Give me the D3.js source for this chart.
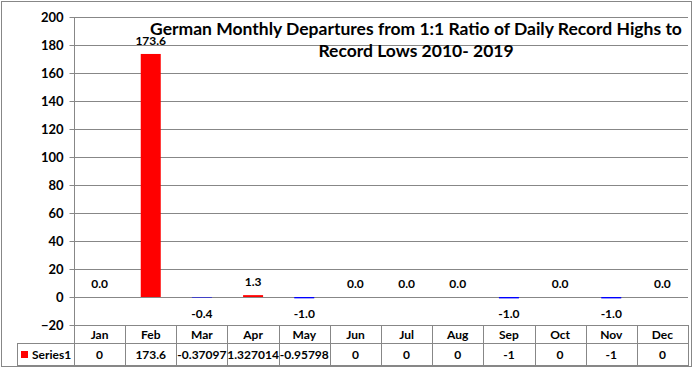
<!DOCTYPE html>
<html><head><meta charset="utf-8">
<script src="https://cdn.jsdelivr.net/npm/d3@7"></script>
<style>body{margin:0;background:#fff}svg{display:block}</style>
</head><body>
<svg id="c" width="695" height="367"></svg>
<script>
const months = ["Jan","Feb","Mar","Apr","May","Jun","Jul","Aug","Sep","Oct","Nov","Dec"];
const series1 = [0, 173.6, -0.37097, 1.327014, -0.95798, 0, 0, 0, -1, 0, -1, 0];
const seriesName = "Series1";
const yTicks = [-20, 0, 20, 40, 60, 80, 100, 120, 140, 160, 180, 200];
const titleLines = ["German Monthly Departures from 1:1 Ratio of Daily Record Highs to", "Record Lows 2010- 2019"];

const svg = d3.select("#c");
const font = "Lato, 'Open Sans', sans-serif";
const grid = "#878787";
const L = 74, R = 688, T = 17, B = 325;
const x = d3.scaleBand().domain(months).range([L, R]);
const y = d3.scaleLinear().domain([-20, 200]).range([B, T]);

// outer border
svg.append("rect").attr("x",1.5).attr("y",1.5).attr("width",690).attr("height",365)
  .attr("fill","#fff").attr("stroke",grid).attr("stroke-width",1);

// gridlines
svg.append("g").selectAll("line").data(yTicks).join("line")
  .attr("x1",L).attr("x2",R).attr("y1",d=>Math.round(y(d))+0.5).attr("y2",d=>Math.round(y(d))+0.5)
  .attr("stroke",grid).attr("stroke-width",1);

// y axis
const ya = svg.append("g").attr("transform",`translate(${L+0.5},0)`)
  .call(d3.axisLeft(y).tickValues(yTicks).tickSize(5).tickPadding(6));
ya.select(".domain").remove();
ya.selectAll("line").attr("stroke",grid).attr("transform", "translate(0,0)");
ya.selectAll(".tick").attr("transform", d=>`translate(0,${Math.round(y(d))+0.5})`);
ya.selectAll("text").attr("font-family",font).attr("font-weight","bold").attr("font-size",13).attr("fill","#000");
svg.append("line").attr("x1",L+0.5).attr("x2",L+0.5).attr("y1",T).attr("y2",366).attr("stroke",grid);

// bars
const bw = 20;
svg.append("g").selectAll("rect").data(series1).join("rect")
  .attr("x",(d,i)=>x(months[i])+x.bandwidth()/2-bw/2)
  .attr("width",bw)
  .attr("y",d=>d>=0?y(d):y(0))
  .attr("height",d=>Math.abs(y(d)-y(0)))
  .attr("fill",d=>d>=0?"#ff0000":"#0000ff");

// data labels
svg.append("g").selectAll("text").data(series1).join("text")
  .attr("x",(d,i)=>x(months[i])+x.bandwidth()/2)
  .attr("y",d=>d<0?y(0)+21:y(d)-9)
  .attr("text-anchor","middle")
  .attr("font-family",font).attr("font-weight","bold").attr("font-size",12).attr("fill","#000")
  .text(d=>d.toFixed(1));

// title
svg.append("g").selectAll("text").data(titleLines).join("text")
  .attr("x",416).attr("y",(d,i)=>35+i*22)
  .attr("text-anchor","middle")
  .attr("font-family",font).attr("font-weight","bold").attr("font-size",17.5).attr("fill","#000")
  .text(d=>d);

// data table
const r1 = 325, r2 = 343, r3 = 366;
const tg = svg.append("g");
tg.append("line").attr("x1",17).attr("x2",R).attr("y1",r2+0.5).attr("y2",r2+0.5).attr("stroke",grid);
tg.append("line").attr("x1",17).attr("x2",R).attr("y1",r3-0.5).attr("y2",r3-0.5).attr("stroke",grid);
tg.append("line").attr("x1",17.5).attr("x2",17.5).attr("y1",r2).attr("y2",r3).attr("stroke",grid);
tg.selectAll(".vl").data(months).join("line")
  .attr("x1",d=>Math.round(x(d)+x.bandwidth())+0.5).attr("x2",d=>Math.round(x(d)+x.bandwidth())+0.5)
  .attr("y1",r1).attr("y2",r3).attr("stroke",grid);
tg.selectAll(".hd").data(months).join("text")
  .attr("x",d=>x(d)+x.bandwidth()/2).attr("y",r1+13.5)
  .attr("text-anchor","middle").attr("font-family",font).attr("font-weight","bold").attr("font-size",12).attr("fill","#000")
  .text(d=>d);
tg.selectAll(".vv").data(series1).join("text")
  .attr("x",(d,i)=>x(months[i])+x.bandwidth()/2).attr("y",r2+16)
  .attr("text-anchor","middle").attr("font-family",font).attr("font-weight","bold").attr("font-size",12).attr("fill","#000")
  .text(d=>String(d));
tg.append("rect").attr("x",21).attr("y",351).attr("width",7).attr("height",7).attr("fill","#ff0000");
tg.append("text").attr("x",32).attr("y",r2+16).attr("font-family",font).attr("font-weight","bold").attr("font-size",12).attr("fill","#000").text(seriesName);
</script>
</body></html>
